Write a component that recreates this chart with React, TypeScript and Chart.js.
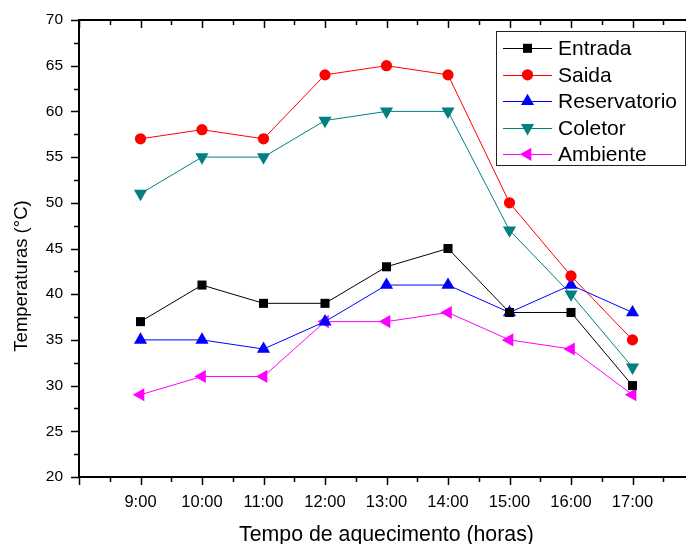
import React, { useEffect, useRef } from 'react';
import { Chart, registerables } from 'chart.js';
import { drawPoint } from 'chart.js/helpers';

Chart.register(...registerables);

// ---- data ----
const hourValues = [9, 10, 11, 12, 13, 14, 15, 16, 17];
const timeLabels = ['9:00', '10:00', '11:00', '12:00', '13:00', '14:00', '15:00', '16:00', '17:00'];

const entrada = [37, 41, 39, 39, 43, 45, 38, 38, 30];
const saida = [57, 58, 57, 64, 65, 64, 50, 42, 35];
const reservatorio = [35, 35, 34, 37, 41, 41, 38, 41, 38];
const coletor = [51, 55, 55, 59, 60, 60, 47, 40, 32];
const ambiente = [29, 31, 31, 37, 37, 38, 35, 34, 29];

const seriesNames = ['Entrada', 'Saida', 'Reservatorio', 'Coletor', 'Ambiente'];

const xMin = 8;
const xMax = 18;
const yMin = 20;
const yMax = 70;
const yStep = 5;

const xTitle = 'Tempo de aquecimento (horas)';
const yTitle = 'Temperaturas (°C)';

const FONT = '"Liberation Sans", Arial, Helvetica, sans-serif';

const styles = [
  { color: '#000000', pointStyle: 'rect', radius: 6.4, rotation: 0 },
  { color: '#FF0000', pointStyle: 'circle', radius: 5.6, rotation: 0 },
  { color: '#0000FF', pointStyle: 'triangle', radius: 7.6, rotation: 0 },
  { color: '#008080', pointStyle: 'triangle', radius: 7.6, rotation: 180 },
  { color: '#FF00FF', pointStyle: 'triangle', radius: 7.6, rotation: 270 },
];

const toPoints = (vals: number[]) => vals.map((v, i) => ({ x: hourValues[i], y: v }));

const framePlugin = {
  id: 'frameTicks',
  afterDraw(chart: any) {
    const { ctx, chartArea, scales } = chart;
    const { left, right, top, bottom } = chartArea;
    const xs = scales.x;
    const ys = scales.y;
    ctx.save();
    ctx.strokeStyle = '#000';
    ctx.lineWidth = 1.5;
    ctx.beginPath();
    for (let v = xMin; v <= xMax + 1e-9; v += 0.5) {
      const major = Math.abs(v - Math.round(v)) < 1e-9;
      const len = major ? 8 : 5;
      const px = Math.round(xs.getPixelForValue(v)) + 0.5;
      ctx.moveTo(px, bottom);
      ctx.lineTo(px, bottom + len);
      ctx.moveTo(px, top);
      ctx.lineTo(px, top + len);
    }
    for (let v = yMin; v <= yMax + 1e-9; v += yStep / 2) {
      const major = Math.abs(v / yStep - Math.round(v / yStep)) < 1e-9;
      const len = major ? 8 : 5;
      const py = Math.round(ys.getPixelForValue(v)) + 0.5;
      ctx.moveTo(left, py);
      ctx.lineTo(left - len, py);
      ctx.moveTo(right, py);
      ctx.lineTo(right - len, py);
    }
    ctx.stroke();
    ctx.lineWidth = 2;
    ctx.strokeRect(left, top, right - left, bottom - top);

    // y axis title
    ctx.save();
    ctx.translate(22, 276);
    ctx.rotate(-Math.PI / 2);
    ctx.fillStyle = '#000';
    ctx.font = `18.5px ${FONT}`;
    ctx.textAlign = 'center';
    ctx.textBaseline = 'middle';
    ctx.fillText(yTitle, 0, 0);
    ctx.restore();

    // legend
    const bx = 496.5, by = 31.5, bw = 189, bh = 134;
    ctx.fillStyle = '#fff';
    ctx.fillRect(bx, by, bw, bh);
    ctx.strokeStyle = '#222';
    ctx.lineWidth = 1;
    ctx.strokeRect(bx, by, bw, bh);
    chart.data.datasets.forEach((ds: any, i: number) => {
      const st = styles[i];
      const cy = 48.3 + i * 26.5;
      ctx.strokeStyle = st.color;
      ctx.lineWidth = 1;
      ctx.beginPath();
      ctx.moveTo(503, Math.round(cy) + 0.5);
      ctx.lineTo(552, Math.round(cy) + 0.5);
      ctx.stroke();
      ctx.fillStyle = st.color;
      drawPoint(ctx, { pointStyle: st.pointStyle, rotation: st.rotation, radius: st.radius, borderWidth: 0 } as any, 527.5, cy);
      ctx.fillStyle = '#000';
      ctx.font = `21px ${FONT}`;
      ctx.textAlign = 'left';
      ctx.textBaseline = 'middle';
      ctx.fillText(ds.label, 558, cy + 1);
    });
    ctx.restore();
  },
};

export default function App() {
  const ref = useRef<HTMLCanvasElement | null>(null);

  useEffect(() => {
    if (!ref.current) return;
    const allSeries = [entrada, saida, reservatorio, coletor, ambiente];
    const chart = new Chart(ref.current, {
      type: 'line',
      data: {
        datasets: allSeries.map((vals, i) => ({
          label: seriesNames[i],
          data: toPoints(vals),
          borderColor: styles[i].color,
          backgroundColor: styles[i].color,
          borderWidth: 1,
          pointStyle: styles[i].pointStyle as any,
          pointRotation: styles[i].rotation,
          pointRadius: styles[i].radius,
          pointHoverRadius: styles[i].radius,
          pointBorderWidth: 0,
          pointBackgroundColor: styles[i].color,
          tension: 0,
          fill: false,
        })),
      },
      options: {
        animation: false,
        responsive: false,
        devicePixelRatio: 1,
        layout: { padding: { left: 0, top: 20, right: 0, bottom: 0 } },
        plugins: {
          legend: { display: false },
          tooltip: { enabled: false },
        },
        scales: {
          x: {
            type: 'linear',
            min: xMin,
            max: xMax,
            grid: { display: false },
            border: { display: false },
            ticks: {
              stepSize: 1,
              autoSkip: false,
              maxRotation: 0,
              padding: 8,
              color: '#000',
              font: { family: FONT, size: 16.5 },
              callback: (value: any) => {
                const idx = hourValues.indexOf(Number(value));
                return idx >= 0 ? timeLabels[idx] : '';
              },
            },
            title: {
              display: true,
              text: xTitle,
              color: '#000',
              font: { family: FONT, size: 21.3, lineHeight: 1 },
              padding: { top: 0, bottom: -1.5 },
            },
            afterFit: (scale: any) => {
              scale.height = 67;
            },
          },
          y: {
            type: 'linear',
            min: yMin,
            max: yMax,
            grid: { display: false },
            border: { display: false },
            ticks: {
              stepSize: yStep,
              padding: 8,
              color: '#000',
              font: { family: FONT, size: 15.5 },
            },
            afterFit: (scale: any) => {
              scale.width = 79;
            },
          },
        },
      },
      plugins: [framePlugin],
    });
    return () => chart.destroy();
  }, []);

  return (
    <div style={{ position: 'fixed', left: 0, top: 0, width: 686, height: 544, overflow: 'hidden', background: '#fff' }}>
      <canvas ref={ref} width={702} height={544} style={{ display: 'block', width: 702, height: 544 }} />
    </div>
  );
}
